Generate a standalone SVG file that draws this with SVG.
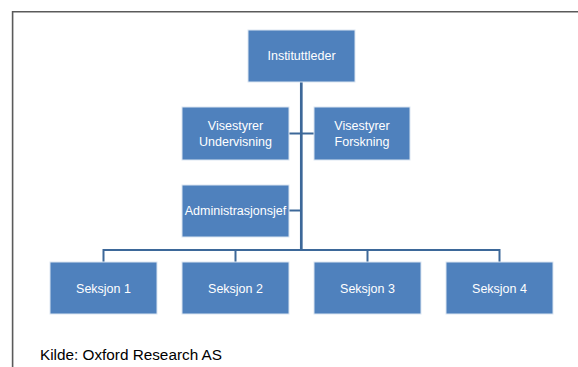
<svg xmlns="http://www.w3.org/2000/svg" width="578" height="367" viewBox="0 0 578 367">
<style>
.box{fill:#4f81bd;stroke:#dbe5f1;stroke-width:1}
.lbl{font-family:"Liberation Sans",Arial,sans-serif;font-size:12.5px;fill:#ffffff;text-anchor:middle;dominant-baseline:central}
.con{stroke:#3d6899;stroke-width:2;fill:none}
.frame{stroke:#5a5a5a;stroke-width:1.6;fill:none}
.src{font-family:"Liberation Sans",Arial,sans-serif;font-size:15.3px;fill:#000}
</style>
<rect x="0" y="0" width="578" height="367" fill="#ffffff"/>
<path class="frame" d="M12.6 367 V11.8 H578"/>
<g id="connectors">
<line class="con" x1="301.3" y1="82" x2="301.3" y2="251" style="stroke-width:2.7"/>
<line class="con" x1="289" y1="133.5" x2="314" y2="133.5"/>
<line class="con" x1="289" y1="210.5" x2="301" y2="210.5"/>
<path class="con" d="M103.5 262 V250 H499.5 V262"/>
<line class="con" x1="235.5" y1="250" x2="235.5" y2="262"/>
<line class="con" x1="367.5" y1="250" x2="367.5" y2="262"/>
</g>
<g id="instituttleder">
<rect class="box" x="248" y="30" width="107" height="52"/>
<text class="lbl" x="301.5" y="56">Instituttleder</text>
</g>
<g id="visestyrer-undervisning">
<rect class="box" x="182" y="107" width="107" height="53"/>
<text class="lbl" x="235.5" y="126">Visestyrer</text>
<text class="lbl" x="235.5" y="141.5">Undervisning</text>
</g>
<g id="visestyrer-forskning">
<rect class="box" x="314" y="107" width="96" height="53"/>
<text class="lbl" x="362" y="126">Visestyrer</text>
<text class="lbl" x="362" y="141.5">Forskning</text>
</g>
<g id="administrasjonsjef">
<rect class="box" x="182" y="185" width="107" height="52"/>
<text class="lbl" x="235.5" y="211">Administrasjonsjef</text>
</g>
<g id="seksjon1">
<rect class="box" x="50" y="262" width="107" height="52"/>
<text class="lbl" x="103.5" y="289">Seksjon 1</text>
</g>
<g id="seksjon2">
<rect class="box" x="182" y="262" width="107" height="52"/>
<text class="lbl" x="235.5" y="289">Seksjon 2</text>
</g>
<g id="seksjon3">
<rect class="box" x="314" y="262" width="107" height="52"/>
<text class="lbl" x="367.5" y="289">Seksjon 3</text>
</g>
<g id="seksjon4">
<rect class="box" x="446" y="262" width="107" height="52"/>
<text class="lbl" x="499.5" y="289">Seksjon 4</text>
</g>
<text class="src" x="40" y="360">Kilde: Oxford Research AS</text>
</svg>
